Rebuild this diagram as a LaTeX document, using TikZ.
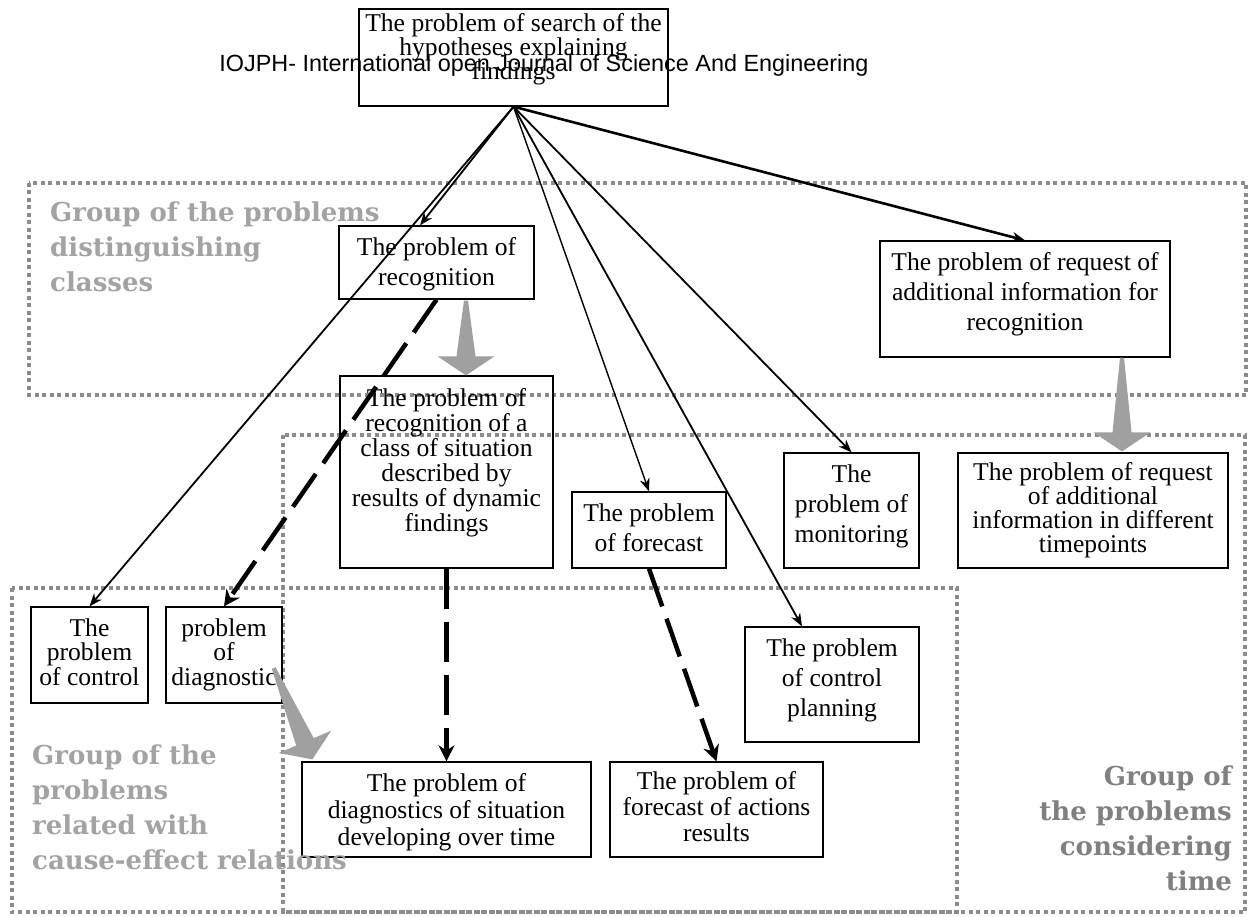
\documentclass[tikz,border=0pt]{standalone}
\usepackage{fontspec}
\setmainfont{Liberation Serif}
\newfontfamily\hdrfont{Liberation Sans}
\newfontfamily\grpfont{DejaVu Serif}
\usetikzlibrary{arrows.meta,calc}
\definecolor{dotgray}{RGB}{140,140,140}
\definecolor{glight}{RGB}{163,163,163}
\definecolor{gdark}{RGB}{128,128,128}
\definecolor{gfillc}{RGB}{160,160,160}
% box text: width, height, baselineskip, top pad, text
\newcommand{\bt}[5]{\parbox[c][#2pt][t]{#1pt}{\vspace*{#4pt}\centering\fontsize{25.6pt}{#3pt}\selectfont #5\par}}
% tapered gray block arrow: start, tip, name
\newcommand{\garrow}[3]{%
  \path ($(#2)!19pt!(#1)$) coordinate (#3hb);
  \fill[gfill] ($(#1)!2pt!90:(#2)$) -- ($(#3hb)!9.5pt!90:(#2)$) -- ($(#3hb)!28.5pt!90:(#2)$) -- (#2)
     -- ($(#3hb)!28.5pt!-90:(#2)$) -- ($(#3hb)!9.5pt!-90:(#2)$) -- ($(#1)!2pt!-90:(#2)$) -- cycle;}
\tikzset{
  pb/.style={draw, line width=1.3pt, inner sep=0pt},
  grp/.style={draw=dotgray, line width=4pt, dash pattern=on 4pt off 3.5pt},
  glab/.style={font=\grpfont\bfseries\fontsize{26pt}{35pt}\selectfont, inner sep=0pt},
  conn/.style={line width=1.8pt, -{Stealth[length=13pt,width=10pt]}},
  dconn/.style={line width=4.5pt, dash pattern=on 40pt off 13pt, -{Stealth[length=16pt,width=16pt]}},
  gfill/.style={fill=gfillc}
}
\begin{document}
\begin{tikzpicture}[x=1pt,y=-1pt]
\useasboundingbox (0,0) rectangle (1252,917);
\fill[white] (0,0) rectangle (1252,917);

% groups
\draw[grp] (29,183) rectangle (1246,395);
\draw[grp] (283,435) rectangle (1245,912);
\draw[grp] (12,588) rectangle (957,912);

% boxes
\node[pb] (top) at (513.5,57.5) {\bt{309}{97}{24}{4.5}{The problem of search of the\\hypotheses explaining\\findings}};
\node[pb] (recog) at (436.5,262.5) {\bt{195}{73}{30}{11}{The problem of\\recognition}};
\node[pb] (request) at (1025,299) {\bt{290}{116}{30}{11}{The problem of request of\\additional information for\\recognition}};
\node[pb] (class) at (446.5,472) {\bt{213}{192}{25}{12}{The problem of\\recognition of a\\class of situation\\described by\\results of dynamic\\findings}};
\node[pb] (forecast) at (649,530) {\bt{154}{76}{30}{11.5}{The problem\\of forecast}};
\node[pb] (monitor) at (851.5,510.5) {\bt{135}{115}{30}{12}{The\\problem of\\monitoring}};
\node[pb] (request2) at (1093,510.5) {\bt{270}{115}{24}{9}{The problem of request\\of additional\\information in different\\timepoints}};
\node[pb] (control) at (89.5,655) {\bt{117}{96}{24.5}{11.5}{The\\problem\\of control}};
\node[pb] (diag) at (224,655) {\bt{116}{96}{24.5}{11.5}{problem\\of\\diagnostic}};
\node[pb] (ctrlplan) at (832,684.5) {\bt{174}{115}{30}{11.5}{The problem\\of control\\planning}};
\node[pb] (diagnostics) at (446.5,809.5) {\bt{289}{95}{27}{11.5}{The problem of\\diagnostics of situation\\developing over time}};
\node[pb] (factions) at (716.5,809.5) {\bt{213}{95}{26}{9.5}{The problem of\\forecast of actions\\results}};

% connectors from the top problem
\draw[conn] (top.south) -- (control.north);
\draw[conn] (top.south) -- ($(recog.north)+(-16.5,0)$);
\draw[conn, line width=1.4pt] (top.south) -- (forecast.north);
\draw[conn] (top.south) -- ($(ctrlplan.north)+(-30,0)$);
\draw[conn] (top.south) -- (monitor.north);
\draw[conn, line width=2.6pt] (top.south) -- (request.north);

% dashed connectors
\draw[dconn] (recog.south) -- (diag.north);
\draw[dconn] (class.south) -- (diagnostics.north);
\draw[dconn] (forecast.south) -- (factions.north);

% gray block arrows
\coordinate (ga1s) at ($(recog.south)+(29.5,1)$);
\coordinate (ga1t) at ($(class.north)+(19.5,0)$);
\garrow{ga1s}{ga1t}{ga1}
\coordinate (ga2s) at ($(request.south)+(97,0)$);
\coordinate (ga2t) at ($(request2.north)+(29,-1)$);
\garrow{ga2s}{ga2t}{ga2}
\coordinate (ga3s) at ($(diag.east)+(-9,13)$);
\coordinate (ga3t) at ($(diagnostics.north west)+(11,-2)$);
\garrow{ga3s}{ga3t}{ga3}

% group labels
\node[glab, text=glight, anchor=north west, align=left] (g1lab) at (50,202) {Group of the problems\\distinguishing\\classes};
\node[glab, text=glight, anchor=north west, align=left] (g2lab) at (32,745) {Group of the\\problems\\related with\\cause-effect relations};
\node[glab, text=gdark, anchor=north east, align=right] (g3lab) at (1232,766) {Group of\\the problems\\considering\\time};

% header
\node[inner sep=0pt, font=\hdrfont\fontsize{23.4pt}{28pt}\selectfont] (hdr) at (544,65) {IOJPH- International open Journal of Science And Engineering};
\end{tikzpicture}
\end{document}
